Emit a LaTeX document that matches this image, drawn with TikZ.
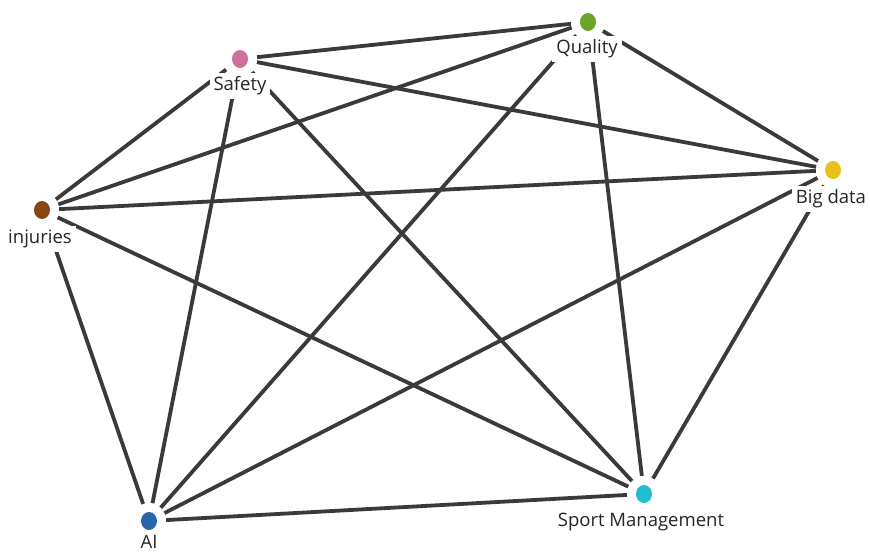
\documentclass[tikz,border=0pt]{standalone}
\usepackage{fontspec}
\setmainfont{Open Sans}
\usetikzlibrary{shapes.geometric}
\definecolor{edgec}{HTML}{3A3A3A}
\definecolor{cq}{HTML}{6AA52A}
\definecolor{cs}{HTML}{D070A0}
\definecolor{ci}{HTML}{8B4513}
\definecolor{cb}{HTML}{E8C21A}
\definecolor{csm}{HTML}{1FBFCF}
\definecolor{cai}{HTML}{2766A8}
\tikzset{
  dot/.style={ellipse, minimum width=16pt, minimum height=18pt, inner sep=0pt, fill=#1},
  edge/.style={draw=edgec, line width=3.8pt, shorten >=9pt, shorten <=9pt},
  lab/.style={fill=white, inner sep=4pt, font=\fontsize{18.5}{20}\selectfont, text=black!85}
}
\begin{document}
\begin{tikzpicture}[x=1pt,y=1pt]
\useasboundingbox (0,0) rectangle (870,554);
\node[dot=cq]  (q)  at (588,532) {};
\node[dot=cs]  (s)  at (240,495) {};
\node[dot=ci]  (i)  at (42,344) {};
\node[dot=cb]  (b)  at (833,384) {};
\node[dot=csm] (m)  at (644,60) {};
\node[dot=cai] (a)  at (149,33) {};
\foreach \u/\v in {s/q,s/b,s/i,s/a,s/m,q/i,q/a,q/m,q/b,i/b,i/m,i/a,b/a,b/m,a/m}
  \draw[edge] (\u) -- (\v);
\node[lab] (lq) at (587,505) {Quality};
\node[lab] (ls) at (240,468) {Safety};
\node[lab] (li) at (40,315) {injuries};
\node[lab] (lb) at (831,355) {Big data};
\node[lab] (lm) at (641,32) {Sport Management};
\node[lab] (la) at (149,12) {AI};
\end{tikzpicture}
\end{document}
